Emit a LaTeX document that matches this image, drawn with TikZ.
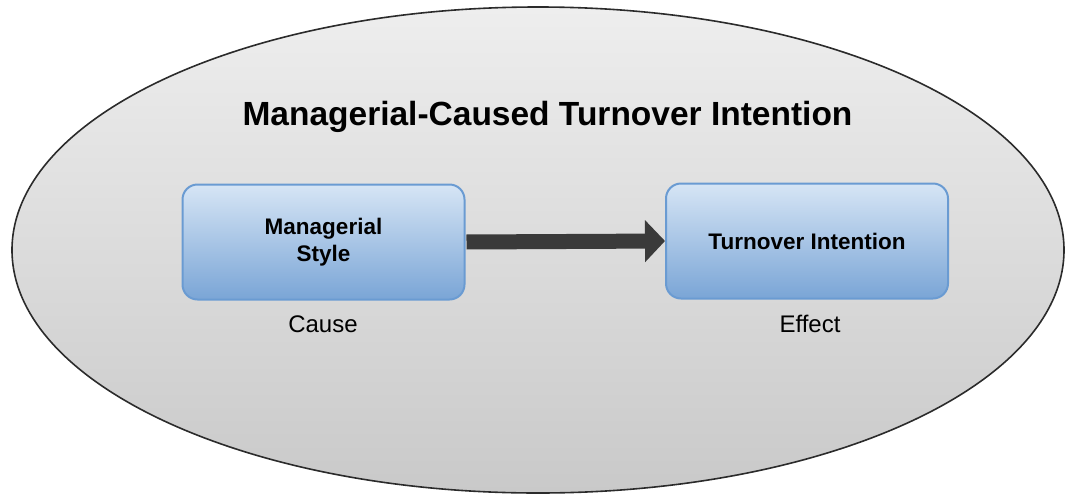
\documentclass[tikz,border=0pt]{standalone}
\usepackage{fontspec}
\setmainfont{Liberation Sans}
\usetikzlibrary{arrows.meta}
\definecolor{ellTop}{HTML}{EEEEEE}
\definecolor{ellBot}{HTML}{C9C9C9}
\definecolor{ellLine}{HTML}{2B2B2B}
\definecolor{boxTop}{HTML}{D6E5F5}
\definecolor{boxBot}{HTML}{7AA5D6}
\definecolor{boxLine}{HTML}{6A9BD2}
\definecolor{arrowCol}{HTML}{3A3A3A}
\tikzset{
  bluebox/.style={draw=boxLine, line width=2pt, rounded corners=15pt,
    top color=boxTop, bottom color=boxBot,
    minimum width=282pt, minimum height=115pt, inner sep=0pt,
    align=center, font=\fontsize{22.5}{26.5}\selectfont\bfseries},
  caption/.style={anchor=base, inner sep=0pt, font=\fontsize{24}{28}\selectfont},
  bigarrow/.style={draw=arrowCol, line width=15pt,
    -{Triangle[length=20pt,width=41pt]}, shorten <=1pt}
}
\begin{document}
\begin{tikzpicture}[x=1pt,y=-1pt]
\useasboundingbox (0,0) rectangle (1078,493);
\path[draw=ellLine, line width=1.6pt, top color=ellTop, bottom color=ellBot]
  (538,250) ellipse [x radius=526, y radius=243];
\node[anchor=base, inner sep=0pt, font=\fontsize{33.5}{38}\selectfont\bfseries] (title) at (547.5,125) {Managerial-Caused Turnover Intention};
\node[bluebox] (ms) at (323.5,242) {Managerial\\Style};
\node[bluebox] (ti) at (807,241) {Turnover Intention};
\node[caption] (cause) at (323,332) {Cause};
\node[caption] (effect) at (810,332) {Effect};
\draw[bigarrow] (ms.east) -- (ti.west);
\end{tikzpicture}
\end{document}
